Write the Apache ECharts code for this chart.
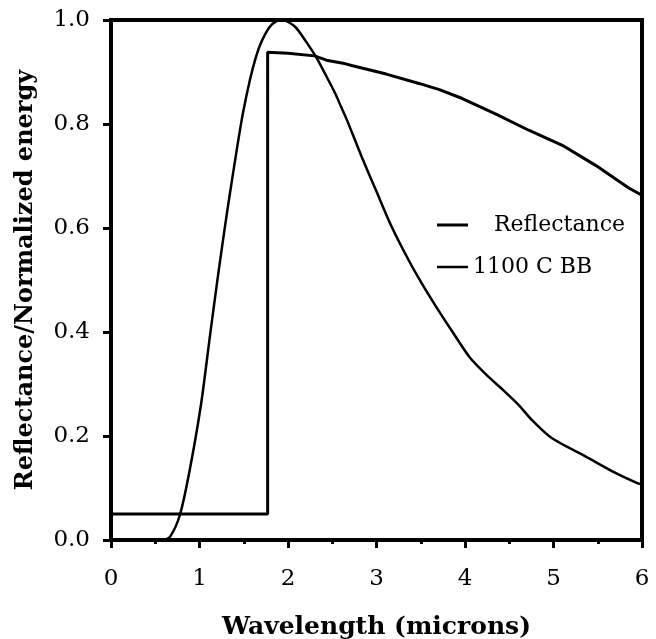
<!DOCTYPE html>
<html>
<head>
<meta charset="utf-8">
<script src="https://cdn.jsdelivr.net/npm/echarts@6/dist/echarts.min.js"></script>
<style>html,body{margin:0;padding:0;background:#fff}#c{width:656px;height:639px}</style>
</head>
<body>
<div id="c"></div>
<script>
const xTicks = [0, 1, 2, 3, 4, 5, 6];
const yTicks = [0.0, 0.2, 0.4, 0.6, 0.8, 1.0];
const reflectance = [
  [0, 0.05], [1.77, 0.05], [1.77, 0.938], [2.0, 0.936], [2.3, 0.931],
  [2.45, 0.922], [2.62, 0.917], [2.73, 0.912], [3.11, 0.896], [3.48, 0.878],
  [3.71, 0.866], [3.97, 0.849], [4.35, 0.819], [4.72, 0.788], [5.10, 0.759],
  [5.48, 0.720], [5.85, 0.677], [6.0, 0.663]
];
const blackbody = [
  [0.5, 0], [0.59, 0.0], [0.67, 0.007], [0.78, 0.049], [0.89, 0.135], [1.02, 0.264],
  [1.12, 0.395], [1.20, 0.497], [1.26, 0.570], [1.32, 0.640], [1.38, 0.706],
  [1.43, 0.760], [1.49, 0.820], [1.57, 0.885], [1.64, 0.930], [1.70, 0.958],
  [1.79, 0.986], [1.87, 0.998], [1.94, 1.0], [2.08, 0.987], [2.21, 0.957],
  [2.32, 0.928], [2.43, 0.893], [2.53, 0.860], [2.60, 0.833], [2.67, 0.806],
  [2.83, 0.738], [3.00, 0.670], [3.17, 0.603], [3.37, 0.536], [3.51, 0.494],
  [3.68, 0.447], [3.86, 0.400], [4.05, 0.352], [4.24, 0.318], [4.42, 0.290],
  [4.61, 0.259], [4.76, 0.230], [4.98, 0.196], [5.37, 0.160], [5.70, 0.129],
  [5.94, 0.110], [6.0, 0.107]
];
const seriesNames = ['Reflectance', '1100 C BB'];
const xTitle = 'Wavelength (microns)';
const yTitle = 'Reflectance/Normalized energy';

const chart = echarts.init(document.getElementById('c'), null, {renderer: 'canvas'});
const serif = 'DejaVu Serif';
chart.setOption({
  animation: false,
  backgroundColor: '#fff',
  grid: {left: 111, right: 14, top: 20, bottom: 99, show: true, borderColor: '#000', borderWidth: 4,
    containLabel: false, outerBoundsMode: 'none'},
  legend: {
    orient: 'vertical', left: 432, top: 209, itemGap: 20,
    itemWidth: 31, itemHeight: 22,
    data: [
      {name: seriesNames[0], icon: 'path://M0,10 L31,10 L31,13 L0,13 Z'},
      {name: seriesNames[1], icon: 'path://M0,10 L31,10 L31,12.5 L0,12.5 Z'}
    ],
    formatter: n => n === seriesNames[0] ? '   ' + n : n,
    textStyle: {fontFamily: serif, fontSize: 22, color: '#000'},
    itemStyle: {color: '#000'}
  },
  xAxis: {
    type: 'value', min: 0, max: 6, interval: 1,
    name: xTitle, nameLocation: 'middle', nameGap: 75,
    nameTextStyle: {fontFamily: serif, fontWeight: 'bold', fontSize: 25, color: '#000'},
    axisLine: {show: true, lineStyle: {color: '#000', width: 4}},
    axisTick: {show: true, length: 8, lineStyle: {color: '#000', width: 3}},
    minorTick: {show: true, splitNumber: 2, length: 4, lineStyle: {color: '#000', width: 3}},
    splitLine: {show: false},
    axisLabel: {fontFamily: serif, fontSize: 23, color: '#000', margin: 28,
      formatter: v => xTicks.includes(v) ? String(v) : ''}
  },
  yAxis: {
    type: 'value', min: 0, max: 1, interval: 0.2,
    name: yTitle, nameLocation: 'middle', nameGap: 73,
    nameTextStyle: {fontFamily: serif, fontWeight: 'bold', fontSize: 24, color: '#000'},
    axisLine: {show: true, lineStyle: {color: '#000', width: 4}},
    axisTick: {show: true, length: 8, lineStyle: {color: '#000', width: 3}},
    splitLine: {show: false},
    axisLabel: {fontFamily: serif, fontSize: 23, color: '#000', margin: 21,
      formatter: v => yTicks.some(t => Math.abs(t - v) < 1e-9) ? v.toFixed(1) : ''}
  },
  series: [
    {name: seriesNames[0], type: 'line', data: reflectance, showSymbol: false, smooth: false,
      lineStyle: {color: '#000', width: 3}, itemStyle: {color: '#000'}, z: 3},
    {name: seriesNames[1], type: 'line', data: blackbody, showSymbol: false, smooth: 0.25,
      lineStyle: {color: '#000', width: 2.5}, itemStyle: {color: '#000'}, z: 4}
  ]
});
</script>
</body>
</html>
